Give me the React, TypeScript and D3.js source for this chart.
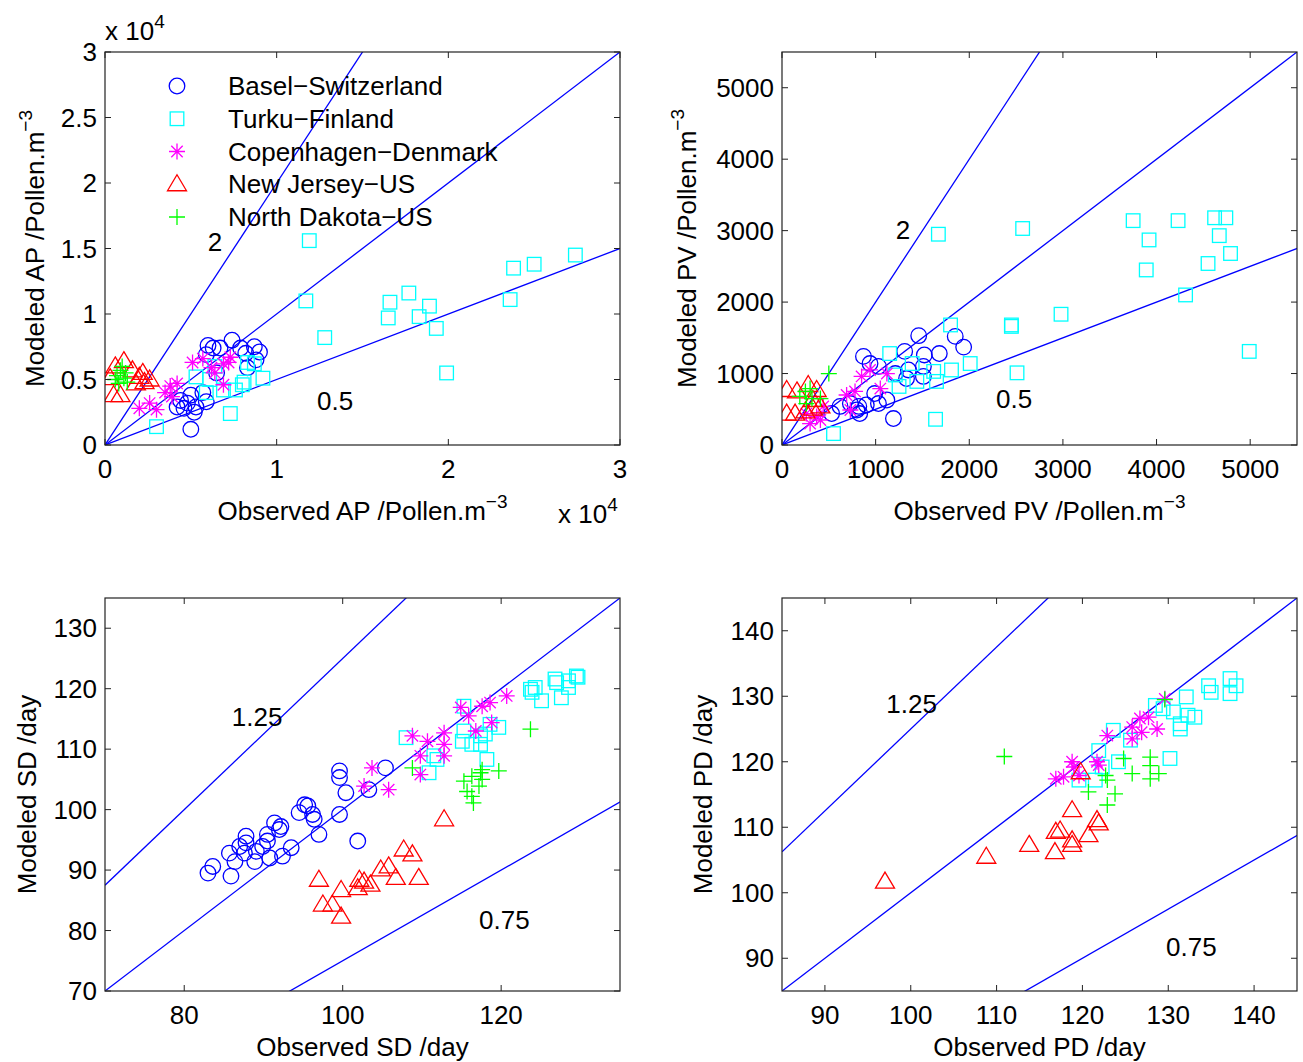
import React from 'react';
import * as d3 from 'd3';

// ---- data ----
const seriesNames = ['Basel\u2212Switzerland', 'Turku\u2212Finland', 'Copenhagen\u2212Denmark', 'New Jersey\u2212US', 'North Dakota\u2212US'];
const seriesColors = ['#0000ff', '#00ffff', '#ff00ff', '#ff0000', '#00ff00'];
const seriesSymbols = ['circle', 'square', 'star', 'triangle', 'plus'];

// AP (pollen m^-3)
const apBasel = [[6000,7600],[6300,7400],[7400,8000],[7900,7400],[8700,7500],[9000,7100],[8200,7000],[8300,5900],[6700,7400],[5900,6900],[6500,5500],[8800,6500],[4400,3400],[4800,3200],[5300,2900],[5200,2500],[5900,3300],[5000,3800],[5700,4000],[4200,2900],[4600,2800],[5000,1200]];
const apTurku = [[11900,15600],[11700,11000],[12800,8200],[16600,10900],[17700,11600],[18900,10600],[16500,9700],[18300,9800],[19300,8900],[19900,5500],[23800,13500],[25000,13800],[27400,14500],[23600,11100],[3000,1400],[7300,2400],[9200,5100],[8700,6200],[8300,6300],[8000,4600],[7600,4200],[6900,4200],[5900,4000],[5300,5200],[6100,5000],[6400,6000],[8100,4800]];
const apCopenhagen = [[2000,2800],[2600,3200],[3000,2700],[3500,4000],[3800,4500],[4200,4700],[3900,3700],[5100,6300],[5700,6600],[6200,5900],[6400,5500],[6900,4600],[7200,6300],[7300,6700],[6900,6200]];
const apNewJersey = [[600,6000],[1100,6400],[1600,5700],[2200,5500],[2600,5000],[300,5100],[500,3800],[900,3800],[1800,4700],[2300,4800],[2000,5200]];
const apNorthDakota = [[700,5300],[900,5700],[1100,5100],[1200,5500],[800,4700],[1300,4800],[1000,6000],[600,5000]];

// PV (pollen m^-3)
const pvBasel = [[1460,1530],[1850,1520],[1940,1370],[1680,1280],[1520,1260],[1310,1310],[870,1240],[940,1140],[1030,1100],[1210,1000],[1350,1050],[1510,1100],[1510,960],[1330,930],[1190,370],[1120,630],[1030,580],[990,720],[800,490],[830,440],[730,580],[620,540],[530,440],[900,560],[820,540]];
const pvTurku = [[1670,2950],[2570,3030],[3750,3140],[4230,3140],[4620,3180],[4740,3180],[3920,2870],[4670,2930],[4790,2680],[4550,2540],[3890,2450],[4310,2100],[2980,1830],[2450,1680],[2450,1660],[1800,1680],[4990,1310],[2510,1010],[2010,1140],[1640,360],[550,160],[1150,1280],[1390,1140],[1620,1030],[1650,890],[1440,890],[1250,820],[1210,980],[1810,1050]];
const pvCopenhagen = [[850,960],[940,1050],[1050,790],[1120,1000],[780,750],[690,700],[730,490],[440,540],[370,400],[300,300],[410,350],[260,440]];
const pvNewJersey = [[50,440],[140,440],[250,470],[280,840],[370,770],[50,770],[160,750],[330,630],[410,540],[330,510]];
const pvNorthDakota = [[500,1000],[190,680],[250,750],[300,790],[320,650],[410,650],[260,580]];

// SD (day)
const sdBasel = [[83.0,89.5],[83.6,90.6],[85.9,89.0],[85.7,92.8],[86.4,91.4],[87.0,93.9],[87.8,94.5],[87.6,92.8],[88.9,91.4],[89.9,93.9],[90.5,94.8],[90.5,95.9],[91.4,97.8],[92.0,96.7],[92.2,97.2],[90.8,92.0],[92.4,92.3],[93.5,93.7],[89.1,93.1],[95.2,100.8],[95.6,100.6],[94.5,99.5],[96.2,99.2],[96.4,98.4],[97.0,95.9],[99.6,99.2],[99.6,106.4],[99.6,105.3],[100.4,102.8],[101.9,94.8],[103.3,103.3],[105.4,106.9],[87.8,95.6]];
const sdTurku = [[108.0,111.9],[111.5,108.9],[111.9,108.3],[110.9,106.1],[115.3,117.1],[115.3,113.0],[115.1,111.3],[116.3,110.8],[117.4,110.8],[118.0,112.5],[119.7,113.6],[118.6,114.1],[118.2,108.3],[117.4,112.2],[123.7,119.9],[124.3,120.2],[123.9,119.4],[125.1,118.0],[126.8,121.6],[127.0,121.0],[127.6,118.5],[128.5,121.3],[128.5,120.2],[129.5,122.1],[129.7,121.9]];
const sdCopenhagen = [[102.7,103.9],[103.7,106.9],[105.8,103.3],[108.8,112.2],[110.7,111.3],[109.8,108.9],[109.8,105.8],[112.8,112.7],[112.8,110.8],[112.8,108.9],[114.9,116.9],[115.9,115.5],[117.6,117.1],[118.6,117.7],[118.8,114.4],[116.8,113.0],[120.7,118.8]];
const sdNewJersey = [[112.8,98.4],[97.0,88.4],[97.5,84.3],[98.7,84.3],[99.8,82.3],[99.8,86.7],[101.9,87.0],[102.7,88.1],[103.5,87.6],[104.8,90.1],[105.8,90.6],[106.7,88.7],[107.7,93.4],[108.8,92.6],[109.6,88.7],[102.1,88.4]];
const sdNorthDakota = [[108.8,106.9],[123.7,113.3],[115.3,104.7],[116.3,105.5],[117.4,106.1],[117.6,106.6],[119.7,106.4],[115.7,103.0],[116.3,102.2],[116.5,101.1],[117.2,103.9],[117.6,105.0]];

// PD (day)
const pdBasel: number[][] = [];
const pdTurku = [[119.6,117.2],[121.5,117.2],[121.9,121.7],[122.3,119.2],[123.6,124.8],[124.2,120.0],[125.6,123.3],[130.2,120.5],[128.5,128.6],[129.4,128.1],[130.6,127.6],[132.1,129.9],[131.4,125.8],[131.4,125.0],[133.1,126.8],[132.3,127.1],[134.7,131.6],[135.0,130.6],[137.2,132.7],[137.2,130.4],[137.9,131.6]];
const pdCopenhagen = [[116.9,117.4],[117.8,117.7],[118.8,120.0],[119.0,119.2],[119.6,117.9],[121.7,120.0],[121.9,119.5],[122.9,124.0],[125.8,125.3],[125.8,123.5],[126.9,124.5],[126.7,126.6],[127.7,126.8],[128.7,125.0],[129.6,129.6]];
const pdNewJersey = [[97.0,101.7],[108.8,105.5],[113.8,107.3],[116.8,106.2],[116.9,109.3],[117.4,109.5],[118.8,112.6],[118.8,108.0],[118.8,107.3],[121.7,111.1],[121.9,110.6],[120.7,108.8],[119.8,118.4]];
const pdNorthDakota = [[110.9,120.8],[120.7,115.4],[122.9,117.2],[123.8,115.1],[122.9,113.4],[122.7,117.9],[124.8,120.5],[125.8,118.2],[127.9,120.7],[127.9,119.4],[127.9,117.4],[128.9,118.2],[129.6,129.5]];

const apTicks = [0, 5000, 10000, 15000, 20000, 25000, 30000];
const apXTicks = [0, 10000, 20000, 30000];
const pvTicks = [0, 1000, 2000, 3000, 4000, 5000];
const sdXTicks = [80, 100, 120];
const sdYTicks = [70, 80, 90, 100, 110, 120, 130];
const pdTicks = [90, 100, 110, 120, 130, 140];

const FONT = '"Liberation Sans", Arial, Helvetica, sans-serif';
const FS = 26;

function Marker({ kind, x, y, color }: { kind: string; x: number; y: number; color: string }) {
  const s = { stroke: color, fill: 'none', strokeWidth: 1.3 };
  if (kind === 'circle') return <circle cx={x} cy={y} r={7.8} {...s} />;
  if (kind === 'square') return <rect x={x - 6.8} y={y - 6.8} width={13.6} height={13.6} {...s} />;
  if (kind === 'triangle') return <path d={`M${x},${y - 9.5}L${x + 9.5},${y + 6.5}L${x - 9.5},${y + 6.5}Z`} {...s} />;
  if (kind === 'plus') return <path d={`M${x - 8},${y}H${x + 8}M${x},${y - 8}V${y + 8}`} {...s} />;
  const r = 8, d = 5.7;
  return <path d={`M${x - r},${y}H${x + r}M${x},${y - r}V${y + r}M${x - d},${y - d}L${x + d},${y + d}M${x - d},${y + d}L${x + d},${y - d}`} {...s} />;
}

function Panel(props: any) {
  const { left, top, w, h, xDomain, yDomain, xTicks, yTicks, fmt, series, ratios, ratioLabels, xLabel, yLabel, xLabelDy, yLabelDx, sup, legend } = props;
  const x = d3.scaleLinear().domain(xDomain).range([0, w]);
  const y = d3.scaleLinear().domain(yDomain).range([h, 0]);
  const id = 'clip' + left + top;
  const tl = 6;
  const line = d3.line<number[]>().x(d => x(d[0])).y(d => y(d[1]));
  return (
    <g transform={`translate(${left},${top})`} fontFamily={FONT} fontSize={FS}>
      <defs>
        <clipPath id={id}><rect x={0} y={0} width={w} height={h} /></clipPath>
      </defs>
      <g clipPath={`url(#${id})`}>
        {ratios.map((r: number) => (
          <path key={r} d={line([[xDomain[0], xDomain[0] * r], [xDomain[1] * 2, xDomain[1] * 2 * r]]) || ''} stroke="#0000ff" strokeWidth={1.3} fill="none" />
        ))}
        {series.map((data: number[][], i: number) => data.map((p, j) => (
          <Marker key={i + '-' + j} kind={seriesSymbols[i]} x={x(p[0])} y={y(p[1])} color={seriesColors[i]} />
        )))}
      </g>
      {ratioLabels.map((l: any) => (
        <text key={l.t} x={x(l.x)} y={y(l.y)} textAnchor="middle" dominantBaseline="central">{l.t}</text>
      ))}
      <rect x={0} y={0} width={w} height={h} fill="none" stroke="#222" strokeWidth={1.2} />
      {xTicks.map((t: number) => (
        <g key={'x' + t}>
          <line x1={x(t)} x2={x(t)} y1={h} y2={h - tl} stroke="#222" />
          <line x1={x(t)} x2={x(t)} y1={0} y2={tl} stroke="#222" />
          <text x={x(t)} y={h + 24} textAnchor="middle" dominantBaseline="central">{fmt(t)}</text>
        </g>
      ))}
      {yTicks.map((t: number) => (
        <g key={'y' + t}>
          <line x1={0} x2={tl} y1={y(t)} y2={y(t)} stroke="#222" />
          <line x1={w} x2={w - tl} y1={y(t)} y2={y(t)} stroke="#222" />
          <text x={-8} y={y(t)} textAnchor="end" dominantBaseline="central">{fmt(t)}</text>
        </g>
      ))}
      <text x={w / 2} y={h + xLabelDy} textAnchor="middle">
        {xLabel}{sup ? <tspan dy={-12} fontSize={19}>{'\u22123'}</tspan> : null}
      </text>
      <text transform={`translate(${yLabelDx},${h / 2}) rotate(-90)`} textAnchor="middle">
        {yLabel}{sup ? <tspan dy={-12} fontSize={19}>{'\u22123'}</tspan> : null}
      </text>
      {props.exp ? (
        <g>
          <text x={0} y={-12}>x 10<tspan dy={-12} fontSize={19}>4</tspan></text>
          <text x={w - 62} y={h + 78}>x 10<tspan dy={-12} fontSize={19}>4</tspan></text>
        </g>
      ) : null}
      {legend ? seriesNames.map((n, i) => (
        <g key={n}>
          <Marker kind={seriesSymbols[i]} x={72} y={34 + i * 32.75} color={seriesColors[i]} />
          <text x={123} y={34 + i * 32.75} dominantBaseline="central">{n}</text>
        </g>
      )) : null}
    </g>
  );
}

export default function App() {
  const apFmt = (t: number) => String(t / 10000);
  const dFmt = (t: number) => String(t);
  return (
    <svg width={1303} height={1062} style={{ position: 'absolute', left: 0, top: 0, background: '#fff' }}>
      <rect width={1303} height={1062} fill="#fff" />
      <Panel left={105} top={52} w={515} h={393} xDomain={[0, 30000]} yDomain={[0, 30000]}
        xTicks={apXTicks} yTicks={apTicks} fmt={apFmt}
        series={[apBasel, apTurku, apCopenhagen, apNewJersey, apNorthDakota]}
        ratios={[2, 1, 0.5]}
        ratioLabels={[{ t: '2', x: 6400, y: 15500 }, { t: '0.5', x: 13400, y: 3360 }]}
        xLabel="Observed AP /Pollen.m" yLabel="Modeled AP /Pollen.m" sup xLabelDy={75} yLabelDx={-61} exp legend />
      <Panel left={782} top={52} w={515} h={393} xDomain={[0, 5500]} yDomain={[0, 5500]}
        xTicks={pvTicks} yTicks={pvTicks} fmt={dFmt}
        series={[pvBasel, pvTurku, pvCopenhagen, pvNewJersey, pvNorthDakota]}
        ratios={[2, 1, 0.5]}
        ratioLabels={[{ t: '2', x: 1293, y: 3011 }, { t: '0.5', x: 2479, y: 644 }]}
        xLabel="Observed PV /Pollen.m" yLabel="Modeled PV /Pollen.m" sup xLabelDy={75} yLabelDx={-86} />
      <Panel left={105} top={598} w={515} h={393} xDomain={[70, 135]} yDomain={[70, 135]}
        xTicks={sdXTicks} yTicks={sdYTicks} fmt={dFmt}
        series={[sdBasel, sdTurku, sdCopenhagen, sdNewJersey, sdNorthDakota]}
        ratios={[1.25, 1, 0.75]}
        ratioLabels={[{ t: '1.25', x: 89.2, y: 115.4 }, { t: '0.75', x: 120.4, y: 81.8 }]}
        xLabel="Observed SD /day" yLabel="Modeled SD /day" xLabelDy={65} yLabelDx={-69} />
      <Panel left={782} top={598} w={515} h={393} xDomain={[85, 145]} yDomain={[85, 145]}
        xTicks={pdTicks} yTicks={pdTicks} fmt={dFmt}
        series={[pdBasel, pdTurku, pdCopenhagen, pdNewJersey, pdNorthDakota]}
        ratios={[1.25, 1, 0.75]}
        ratioLabels={[{ t: '1.25', x: 100.1, y: 128.8 }, { t: '0.75', x: 132.7, y: 91.7 }]}
        xLabel="Observed PD /day" yLabel="Modeled PD /day" xLabelDy={65} yLabelDx={-70} />
    </svg>
  );
}
